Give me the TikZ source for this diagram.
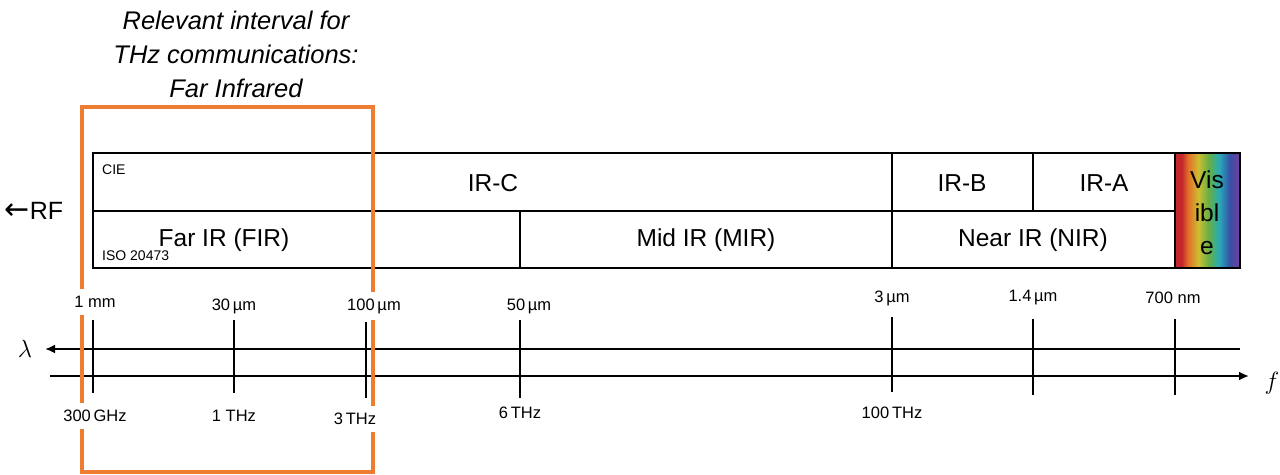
\documentclass[tikz,border=0pt]{standalone}
\usepackage{fontspec}
\setmainfont{Liberation Sans}
\newfontfamily\djv{DejaVu Sans}
\usetikzlibrary{arrows.meta}
\definecolor{thzorange}{RGB}{237,125,49}
\definecolor{rbA}{RGB}{196,38,44}
\definecolor{rbB}{RGB}{226,110,40}
\definecolor{rbC}{RGB}{205,190,50}
\definecolor{rbD}{RGB}{100,175,70}
\definecolor{rbE}{RGB}{40,170,185}
\definecolor{rbF}{RGB}{55,80,165}
\definecolor{rbG}{RGB}{120,60,160}
\pgfdeclarehorizontalshading{rainbowsh}{100bp}{color(0bp)=(rbA); color(25bp)=(rbA); color(30bp)=(rbA); color(35bp)=(rbB); color(43bp)=(rbC); color(51bp)=(rbD); color(59bp)=(rbE); color(67bp)=(rbF); color(75bp)=(rbG); color(100bp)=(rbG)}
\tikzset{
  boxline/.style={line width=2.1pt, black},
  axisline/.style={line width=2.1pt, black},
  tickline/.style={line width=2.1pt, black},
  frameline/.style={line width=3.6pt, thzorange},
  bandlabel/.style={font=\fontsize{24.5}{33}\selectfont, inner sep=0pt},
  smalllabel/.style={font=\fontsize{14}{16}\selectfont, inner sep=0pt, anchor=west},
  axlabel/.style={font=\fontsize{16.5}{19}\selectfont, fill=white, inner sep=7pt},
}
\begin{document}
\begin{tikzpicture}[x=1pt,y=-1pt]
\useasboundingbox (0,0) rectangle (1280,474);
% title
\node[align=center, font=\itshape\fontsize{25.5}{34}\selectfont] (title) at (236,54) {Relevant interval for\\THz communications:\\Far Infrared};
% band table
\shade[shading=rainbowsh] (1175,153) rectangle (1240,268);
\draw[boxline] (93,153) rectangle (1240,268);
\draw[boxline] (93,211) -- (1175,211);
\draw[boxline] (892,153) -- (892,268);
\draw[boxline] (1033,153) -- (1033,211);
\draw[boxline] (520,211) -- (520,268);
\draw[boxline] (1175,153) -- (1175,268);
\node[bandlabel] (irc) at (493,183) {IR-C};
\node[bandlabel] (irb) at (962,183) {IR-B};
\node[bandlabel] (ira) at (1104,183) {IR-A};
\node[bandlabel] (fir) at (224,240) {Far IR (FIR)};
\node[bandlabel] (mir) at (706,240) {Mid IR (MIR)};
\node[bandlabel] (nir) at (1033,240) {Near IR (NIR)};
\node[bandlabel, align=center] (vis) at (1207,213) {Vis\\ibl\\e};
\node[smalllabel] (cie) at (102,170) {CIE};
\node[smalllabel] (iso) at (102,256) {ISO 20473};
\node[font=\fontsize{25}{28}\selectfont, inner sep=0pt] (rf) at (34,211) {{\djv\fontsize{30}{30}\selectfont ←}RF};
% axes
\coordinate (lamR) at (1240,349);
\coordinate (lamL) at (45,349);
\coordinate (fL) at (50,376);
\coordinate (fR) at (1249,376);
\draw[axisline, -{Latex[length=10pt,width=9pt]}] (lamR) -- (lamL);
\draw[axisline, -{Latex[length=10pt,width=9pt]}] (fL) -- (fR);
\node[font=\fontsize{23}{24}\selectfont] (lam) at (25,349) {$\lambda$};
\node[font=\fontsize{23}{24}\selectfont] (f) at (1272,383) {$f$};
% ticks
\draw[tickline] (93,320) -- (93,393);
\draw[tickline] (234,318) -- (234,393);
\draw[tickline] (366,322) -- (366,398);
\draw[tickline] (520,318) -- (520,398);
\draw[tickline] (892,317) -- (892,392);
\draw[tickline] (1033,319) -- (1033,395);
\draw[tickline] (1175,319) -- (1175,395);
% orange frame
\draw[frameline] (82,107) rectangle (373,472);
% axis labels
\node[axlabel] (l1) at (95,302) {1 mm};
\node[axlabel] (l2) at (234,306) {30\,µm};
\node[axlabel] (l3) at (374,306) {100\,µm};
\node[axlabel] (l4) at (529,306) {50\,µm};
\node[axlabel] (l5) at (892,298) {3\,µm};
\node[axlabel] (l6) at (1033,298) {1.4\,µm};
\node[axlabel] (l7) at (1173,298) {700 nm};
\node[axlabel] (b1) at (95,416) {300\,GHz};
\node[axlabel] (b2) at (234,416) {1 THz};
\node[axlabel] (b3) at (355,419) {3\,THz};
\node[axlabel] (b4) at (520,413) {6\,THz};
\node[axlabel] (b5) at (892,413) {100\,THz};
\end{tikzpicture}
\end{document}
